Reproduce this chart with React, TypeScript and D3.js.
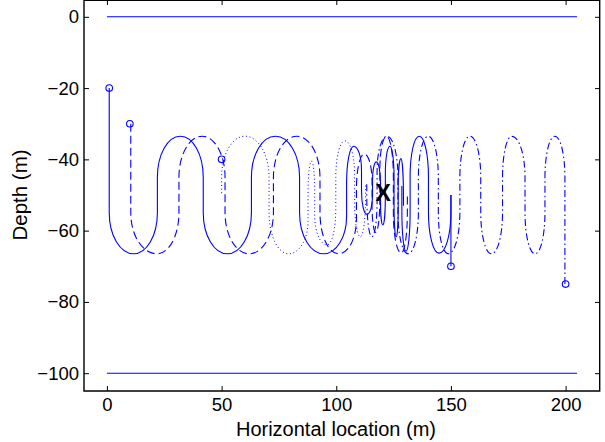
import React, { useEffect, useRef } from "react";
import * as d3 from "d3";

type Pt = [number, number];

// start positions (circles)
const startX = [1, 10, 50, 150, 200];
const startDepth = [-20, -30, -40, -70, -75];

// surface / sea floor lines
const boundaryDepth = [0, -100];
const boundaryX = [0, 205];

// target marker
const targetX = 120.5;
const targetDepth = -49.5;
const targetLabel = "X";

const xTicks = [0, 50, 100, 150, 200];
const yTicks = [0, -20, -40, -60, -80, -100];

// trajectories: where the line begins, the turning
// points (tops / bottoms of the loops), the x of the near-vertical legs
// between them, and where the line stops.  [x (m), depth (m)]
const solidStart: Pt = [1, -20];
const solidTurns: Pt[] = [
  [11.6, -66.5], [32, -33.5], [52.5, -66.5], [73.5, -33.5], [94.5, -66.5],
  [107.6, -36.3], [113.4, -55.4], [117.5, -40.7], [120.3, -58.4], [123.4, -36.3],
  [126.1, -61.7], [128.2, -39.8],
];
const solidLegs = [22, 42, 63, 84, 104.5, 111, 115.8, 119.3, 121.4, 125.2, 127];
const solidEnd: Pt = [129.3, -53];

const dashedStart: Pt = [10.4, -30];
const dashedTurns: Pt[] = [
  [21.8, -66.5], [41.5, -33.5], [62, -66.5], [82.8, -33.5], [101, -66.5],
  [112.2, -38.5], [117.2, -60.5], [121.9, -33.5], [128.3, -66.3],
];
const dashedLegs = [31.4, 51.5, 72.6, 92.9, 108.8, 115.6, 119, 124.9];
const dashedEnd: Pt = [131, -50];

const dottedStart: Pt = [50, -49.5];
const dottedTurns: Pt[] = [
  [60.2, -33.5], [79.2, -66.5], [89.2, -40.5], [96, -64], [103.8, -34.8], [110.5, -61.7],
];
const dottedLegs = [70.7, 87.7, 90.6, 99.8, 108];
const dottedEnd: Pt = [112.8, -47];

const stalk2: Pt[] = [[150, -70], [150, -50]];
const solid2Start: Pt = [150, -50];
const solid2Turns: Pt[] = [[144.8, -66.3], [136.2, -33.5], [130.4, -65.8]];
const solid2Legs = [140.2, 132.2];
const solid2End: Pt = [128.6, -47.5];

const dashDotStart: Pt = [199.7, -75];
const dashDotTurns: Pt[] = [
  [195.3, -33.5], [186.7, -66.5], [176.5, -33.5], [167.7, -66.5], [158.3, -33.5],
  [148.8, -66.5], [140.1, -33.5], [131.3, -66.5], [122.1, -33.5], [115.5, -61.7],
];
const dashDotLegs = [191, 182.3, 172.5, 163, 153.9, 144.5, 135.8, 126.9, 117.8];
const dashDotEnd: Pt = [113.3, -47];

const tracks = [
  { start: solidStart, turns: solidTurns, legs: solidLegs, end: solidEnd, dash: null },
  { start: dashedStart, turns: dashedTurns, legs: dashedLegs, end: dashedEnd, dash: "8,4" },
  { start: dottedStart, turns: dottedTurns, legs: dottedLegs, end: dottedEnd, dash: "1,2.6" },
  { start: solid2Start, turns: solid2Turns, legs: solid2Legs, end: solid2End, dash: null },
  { start: dashDotStart, turns: dashDotTurns, legs: dashDotLegs, end: dashDotEnd, dash: "7,3,1.5,3" },
];

export default function App() {
  const svgRef = useRef<SVGSVGElement>(null);

  useEffect(() => {
    const W = 605, H = 442;
    const left = 84, right = 600, top = -1, bottom = 391;
    const font = "'Liberation Sans', Arial, Helvetica, sans-serif";
    const blue = "#0000ff";
    const K = 0.5523; // bezier quarter-ellipse constant
    const bend = 0.35; // share of a swing taken by the rounded end

    const svg = d3.select(svgRef.current);
    svg.selectAll("*").remove();
    svg.attr("width", W).attr("height", H);

    const x = d3.scaleLinear().domain([-10, 215]).range([left, right]);
    const y = d3.scaleLinear().domain([-105, 5]).range([bottom, top]);

    svg.append("rect").attr("width", W).attr("height", H).attr("fill", "#fff");

    boundaryDepth.forEach((d) => {
      svg.append("line")
        .attr("x1", x(boundaryX[0])).attr("x2", x(boundaryX[1]))
        .attr("y1", y(d)).attr("y2", y(d))
        .attr("stroke", blue).attr("stroke-width", 1.1);
    });

    // turning point -> leg (horizontal tangent to vertical tangent)
    const fromTurn = (p: d3.Path, px: number, py: number, qx: number, qy: number) =>
      p.bezierCurveTo(px + K * (qx - px), py, qx, qy + K * (py - qy), qx, qy);
    // leg -> turning point
    const toTurn = (p: d3.Path, qx: number, qy: number, px: number, py: number) =>
      p.bezierCurveTo(qx, qy + K * (py - qy), px + K * (qx - px), py, px, py);

    const trackPath = (t: typeof tracks[number]) => {
      const p = d3.path();
      const [sx, sd] = t.start;
      const first = t.turns[0];
      p.moveTo(x(sx), y(sd));
      const r0 = Math.min(11.5, Math.abs(first[1] - sd));
      const s0 = Math.sign(first[1] - sd);
      p.lineTo(x(sx), y(first[1] - s0 * r0));
      toTurn(p, x(sx), y(first[1] - s0 * r0), x(first[0]), y(first[1]));
      for (let i = 0; i < t.turns.length - 1; i++) {
        const [x1, d1] = t.turns[i];
        const [x2, d2] = t.turns[i + 1];
        const leg = t.legs[i];
        const r = bend * Math.abs(d2 - d1);
        const s = Math.sign(d2 - d1);
        fromTurn(p, x(x1), y(d1), x(leg), y(d1 + s * r));
        p.lineTo(x(leg), y(d2 - s * r));
        toTurn(p, x(leg), y(d2 - s * r), x(x2), y(d2));
      }
      const last = t.turns[t.turns.length - 1];
      const [ex, ed] = t.end;
      const r1 = Math.min(11.5, Math.abs(ed - last[1]));
      const s1 = Math.sign(ed - last[1]);
      fromTurn(p, x(last[0]), y(last[1]), x(ex), y(last[1] + s1 * r1));
      p.lineTo(x(ex), y(ed));
      return p.toString();
    };

    tracks.forEach((t) => {
      svg.append("path")
        .attr("d", trackPath(t))
        .attr("fill", "none")
        .attr("stroke", blue)
        .attr("stroke-width", t.dash === "1,2.6" ? 1 : 1.1)
        .attr("stroke-dasharray", t.dash);
    });

    svg.append("path")
      .attr("d", d3.line<Pt>().x((d) => x(d[0])).y((d) => y(d[1]))(stalk2))
      .attr("stroke", blue).attr("stroke-width", 1.1).attr("fill", "none");

    svg.selectAll(".start")
      .data(startX)
      .join("circle")
      .attr("cx", (d) => x(d))
      .attr("cy", (_, i) => y(startDepth[i]))
      .attr("r", 3.3)
      .attr("fill", "none")
      .attr("stroke", blue)
      .attr("stroke-width", 1.1);

    svg.append("text")
      .attr("x", x(targetX)).attr("y", y(targetDepth))
      .attr("dy", "0.36em")
      .attr("text-anchor", "middle")
      .attr("font-family", font)
      .attr("font-weight", "bold")
      .attr("font-size", 23)
      .text(targetLabel);

    const styleAxis = (g: any) => {
      g.select(".domain").remove();
      g.attr("font-family", font).attr("font-size", 18.5);
      g.selectAll("line").attr("stroke", "#000");
      g.selectAll("text").attr("fill", "#000");
    };
    svg.append("g").attr("transform", `translate(0,${bottom})`)
      .call(d3.axisBottom(x).tickValues(xTicks).tickSize(-5).tickPadding(7))
      .call(styleAxis);
    svg.append("g").attr("transform", `translate(0,0)`)
      .call(d3.axisTop(x).tickValues(xTicks).tickSize(-5).tickFormat(() => ""))
      .call(styleAxis);
    svg.append("g").attr("transform", `translate(${left},0)`)
      .call(d3.axisLeft(y).tickValues(yTicks).tickSize(-5).tickPadding(5))
      .call(styleAxis);
    svg.append("g").attr("transform", `translate(${right},0)`)
      .call(d3.axisRight(y).tickValues(yTicks).tickSize(-5).tickFormat(() => ""))
      .call(styleAxis);

    svg.append("path")
      .attr("d", `M${left},0.3H${right - 0.3}V${bottom}H${left}Z`)
      .attr("fill", "none")
      .attr("stroke", "#000")
      .attr("stroke-width", 1.4);

    svg.append("text")
      .attr("x", 336).attr("y", 435.5)
      .attr("text-anchor", "middle")
      .attr("font-family", font).attr("font-size", 20)
      .text("Horizontal location (m)");

    svg.append("text")
      .attr("transform", `translate(27,${(bottom + top) / 2}) rotate(-90)`)
      .attr("text-anchor", "middle")
      .attr("font-family", font).attr("font-size", 20.5)
      .text("Depth (m)");
  }, []);

  return (
    <svg ref={svgRef} style={{ position: "absolute", left: 0, top: 0, display: "block" }} />
  );
}
